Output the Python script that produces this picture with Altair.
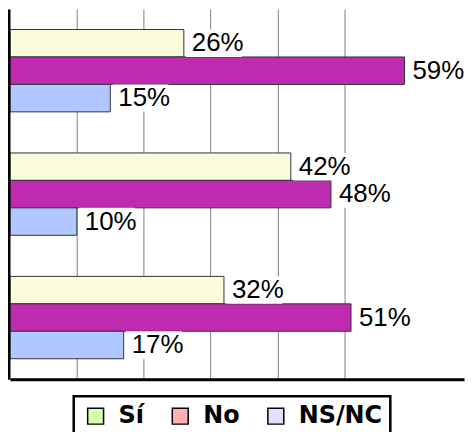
import altair as alt
import pandas as pd

grupos = ["1", "2", "3"]
series = ["Sí", "No", "NS/NC"]
si = [26, 42, 32]
no = [59, 48, 51]
nsnc = [15, 10, 17]
colores_barras = ["#FCFCDC", "#C02AB0", "#B0C8FF"]
colores_leyenda = ["#D8FFB0", "#FFB0B0", "#E0E0FF"]

rows = []
for i, g in enumerate(grupos):
    for s, vals in zip(series, [si, no, nsnc]):
        rows.append({"grupo": g, "serie": s, "valor": vals[i]})
df = pd.DataFrame(rows)

FONT = "Liberation Sans"
x_scale = alt.Scale(domain=[0, 67.9], nice=False, zero=True)
y = alt.Y("grupo:N", sort=grupos,
          scale=alt.Scale(paddingInner=0.333, paddingOuter=0.1667),
          axis=alt.Axis(labels=False, ticks=False, title=None, domainColor="black",
                        domainWidth=3, offset=1.5, zindex=1))
yoff = alt.YOffset("serie:N", sort=series, scale=alt.Scale(paddingInner=0, paddingOuter=0))

base = alt.Chart(df)

bars = base.mark_bar(stroke="#333333", strokeWidth=1).encode(
    x=alt.X("valor:Q", scale=x_scale,
            axis=alt.Axis(values=[10, 20, 30, 40, 50], labels=False, ticks=False, title=None,
                          grid=True, gridColor="#808080", gridWidth=1,
                          domainColor="black", domainWidth=3)),
    y=y,
    yOffset=yoff,
    fill=alt.Fill("serie:N", sort=series, scale=alt.Scale(domain=series, range=colores_barras), legend=None),
)

cajas = base.transform_calculate(
    x1="datum.valor + 0.35", x2="datum.valor + 8.7"
).mark_bar(color="white").encode(
    x=alt.X("x1:Q", scale=x_scale),
    x2="x2:Q",
    y=y,
    yOffset=yoff,
)

textos = base.transform_calculate(
    etiqueta="datum.valor + '%'"
).mark_text(align="left", baseline="middle", dx=8, font=FONT, fontSize=26, color="black").encode(
    x=alt.X("valor:Q", scale=x_scale),
    y=y,
    yOffset=yoff,
    text="etiqueta:N",
)

leyenda = base.mark_square(opacity=0).encode(
    x=alt.X("valor:Q", scale=x_scale),
    y=y,
    color=alt.Color("serie:N", sort=series,
                    scale=alt.Scale(domain=series, range=colores_leyenda),
                    legend=alt.Legend(orient="none", legendX=64, legendY=389, direction="horizontal",
                                      title=None, symbolType="square", symbolSize=256,
                                      symbolStrokeColor="black", symbolStrokeWidth=1.5,
                                      symbolOpacity=1, symbolOffset=2,
                                      labelFont="DejaVu Sans", labelFontSize=24,
                                      labelFontWeight="bold", labelColor="black",
                                      labelExpr="datum.label == 'NS/NC' ? 'NS/NC\u2002' : datum.label",
                                      labelOffset=11, columnPadding=22, padding=8,
                                      strokeColor="black")),
)

chart = alt.layer(bars, cajas, textos, leyenda).resolve_scale(
    fill="independent", color="independent"
).properties(
    width=456, height=372,
    padding={"left": 0, "top": 0, "right": 0, "bottom": 0},
).configure_view(stroke=None).configure_legend(strokeWidth=2.5)

chart.save("out.html", embed_options={"renderer": "svg", "actions": False})
